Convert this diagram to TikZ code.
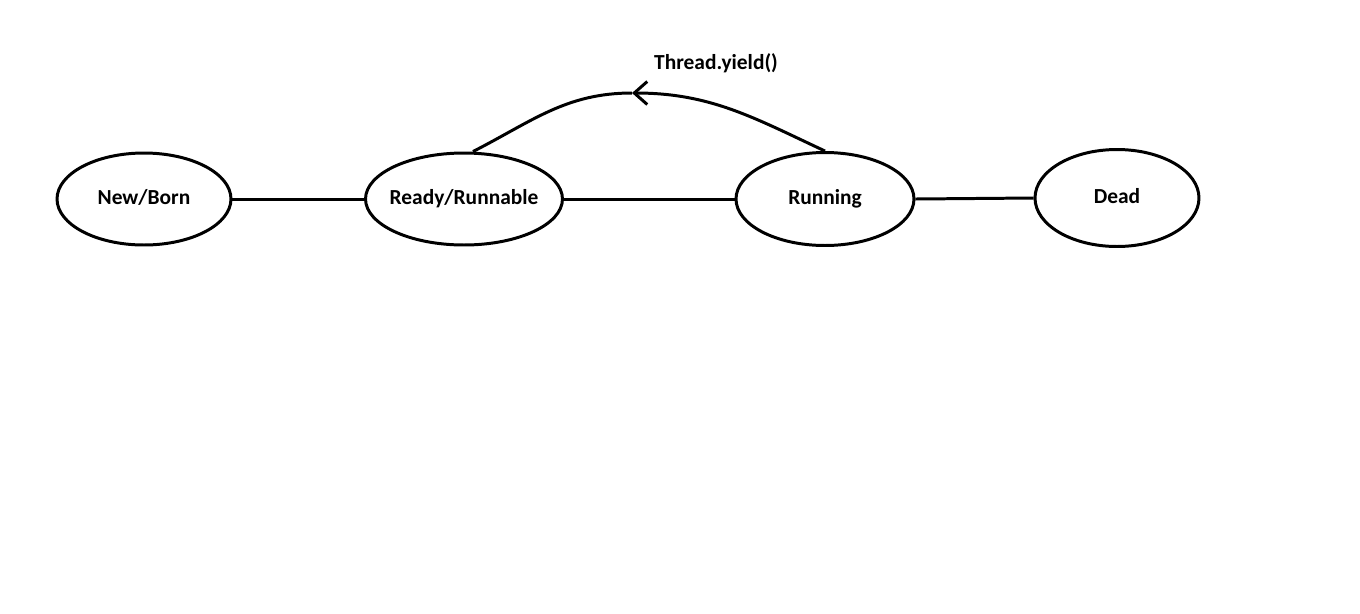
\documentclass[tikz,border=0pt]{standalone}
\usepackage{fontspec}
\setmainfont{Carlito}
\usepackage{tikz}
\usetikzlibrary{shapes.geometric}
\usetikzlibrary{arrows.meta}

\begin{document}
\begin{tikzpicture} [
    x=0.02cm, y=-0.02cm,
    every node/.style = {font=\fontsize{12.2pt}{14pt}\selectfont\bfseries},
    state/.style = {ellipse, draw, line width=1.7pt, inner xsep=-0.25cm, inner ysep=0pt,
                    text height=0.85em, text depth=0.2em},
    link/.style = {line width=1.7pt}
]
    \useasboundingbox (0,0) rectangle (1360,613);

    \node[state, minimum width=3.48cm, minimum height=1.84cm] (born) at (144,199) {New/Born};
    \node[state, minimum width=3.94cm, minimum height=1.84cm] (ready) at (464,199) {Ready/Runnable};
    \node[state, minimum width=3.56cm, minimum height=1.86cm] (running) at (825,199) {Running};
    \node[state, minimum width=3.28cm, minimum height=1.94cm] (dead) at (1117,198) {Dead};

    \draw[link] (born.east) -- (ready.west);
    \draw[link] (ready.east) -- (running.west);
    \draw[link] (running.east) -- (dead.west);

    % yield goes back to ready
    \coordinate (top) at (632,93);
    \draw[link, -{Straight Barb[length=0.26cm, width=0.46cm]}] (running.north) to[out=155, in=0] (top);
    \draw[link] (top) to[out=180, in=27] ([xshift=0.18cm]ready.north);
    \node (yield) at (716,63) {Thread.yield()};
\end{tikzpicture}
\end{document}
